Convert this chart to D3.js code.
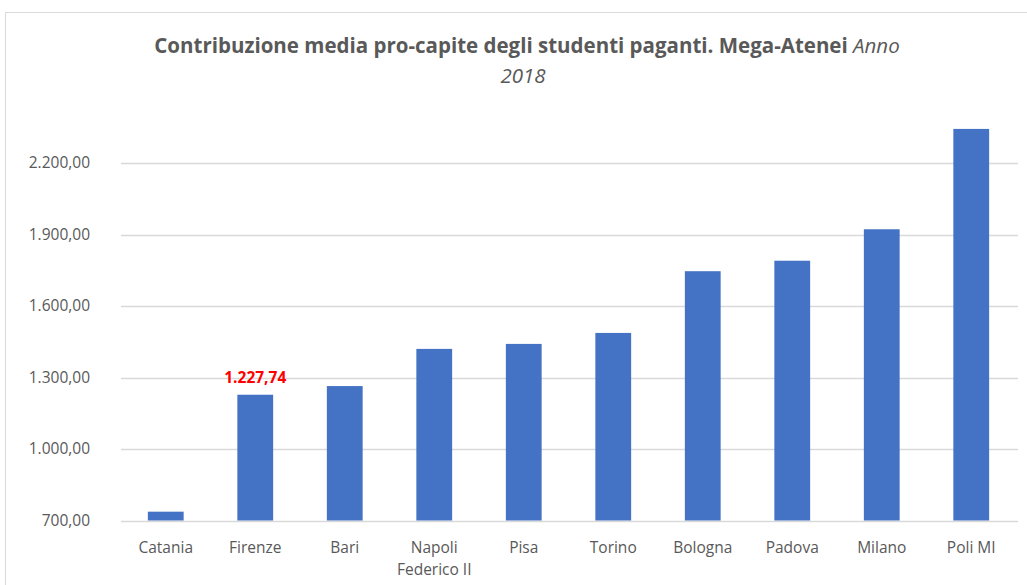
<!DOCTYPE html>
<html>
<head>
<meta charset="utf-8">
<script src="https://cdn.jsdelivr.net/npm/d3@7"></script>
<style>
  body { margin: 0; background: #fff; }
  svg { display: block; font-family: "Open Sans", Lato, sans-serif; }
</style>
</head>
<body>
<svg width="1027" height="585"></svg>
<script>
var atenei = ["Catania", "Firenze", "Bari", "Napoli\nFederico II", "Pisa", "Torino", "Bologna", "Padova", "Milano", "Poli MI"];
var contributo = [737, 1227.74, 1264, 1420, 1441, 1487, 1746, 1790, 1922, 2343];
var tickValori = [700, 1000, 1300, 1600, 1900, 2200];
var evidenziato = "Firenze";

var svg = d3.select("svg"),
    width = +svg.attr("width"),
    height = +svg.attr("height");

var grigio = "#595959";

// chart frame (only top and left edges are in the picture)
svg.append("path")
    .attr("d", "M5.5,585V12.5H1027")
    .attr("fill", "none")
    .attr("stroke", "#d9d9d9");

var x = d3.scaleBand()
    .domain(atenei)
    .range([121, 1016])
    .paddingInner(0.6)
    .paddingOuter(0.3);

var y = d3.scaleLinear()
    .domain([700, 2200])
    .range([520.5, 163]);

var fmt = function(v) {
    return d3.format(",.2f")(v).replace(/,/g, "#").replace(".", ",").replace(/#/g, ".");
};

// grid
svg.append("g")
    .selectAll("line")
    .data(tickValori)
    .enter().append("line")
    .attr("x1", 121)
    .attr("x2", 1018)
    .attr("y1", function(d) { return Math.round(y(d)) + 0.5; })
    .attr("y2", function(d) { return Math.round(y(d)) + 0.5; })
    .attr("stroke", "#d9d9d9")
    .attr("stroke-width", 1.3);

// y axis labels
var yAxis = d3.axisLeft(y).tickValues(tickValori).tickSize(0).tickPadding(0).tickFormat(fmt);
var gy = svg.append("g")
    .attr("transform", "translate(90,0)")
    .call(yAxis);
gy.select(".domain").remove();
gy.selectAll("text")
    .attr("fill", grigio)
    .style("font-size", "15.5px")
    .style("font-family", "'Open Sans', sans-serif");

// bars
svg.append("g")
    .selectAll("rect")
    .data(contributo)
    .enter().append("rect")
    .attr("x", function(d, i) { return x(atenei[i]); })
    .attr("width", x.bandwidth())
    .attr("y", function(d) { return y(d); })
    .attr("height", function(d) { return y(700) - y(d); })
    .attr("fill", "#4472c4");

// x labels
var xl = svg.append("g")
    .selectAll("text")
    .data(atenei)
    .enter().append("text")
    .attr("x", function(d) { return x(d) + x.bandwidth() / 2; })
    .attr("y", 553)
    .attr("text-anchor", "middle")
    .attr("fill", grigio)
    .style("font-size", "15.5px");
xl.each(function(d) {
    var t = d3.select(this);
    d.split("\n").forEach(function(r, k) {
        t.append("tspan")
            .attr("x", x(d) + x.bandwidth() / 2)
            .attr("dy", k ? 22 : 0)
            .text(r);
    });
});

// data label
var iF = atenei.indexOf(evidenziato);
svg.append("text")
    .attr("x", x(evidenziato) + x.bandwidth() / 2)
    .attr("y", y(contributo[iF]) - 12)
    .attr("text-anchor", "middle")
    .attr("fill", "#ff0000")
    .style("font-size", "15.5px")
    .style("font-weight", "bold")
    .text(fmt(contributo[iF]));

// title
var title = svg.append("text")
    .attr("x", 527)
    .attr("y", 53)
    .attr("text-anchor", "middle")
    .attr("fill", grigio)
    .style("font-size", "20.5px");
title.append("tspan").style("font-weight", "bold")
    .text("Contribuzione media pro-capite degli studenti paganti. Mega-Atenei ");
title.append("tspan").style("font-style", "italic").text("Anno");
svg.append("text")
    .attr("x", 523)
    .attr("y", 83)
    .attr("text-anchor", "middle")
    .attr("fill", grigio)
    .style("font-size", "20.5px")
    .style("font-style", "italic")
    .text("2018");
</script>
</body>
</html>
